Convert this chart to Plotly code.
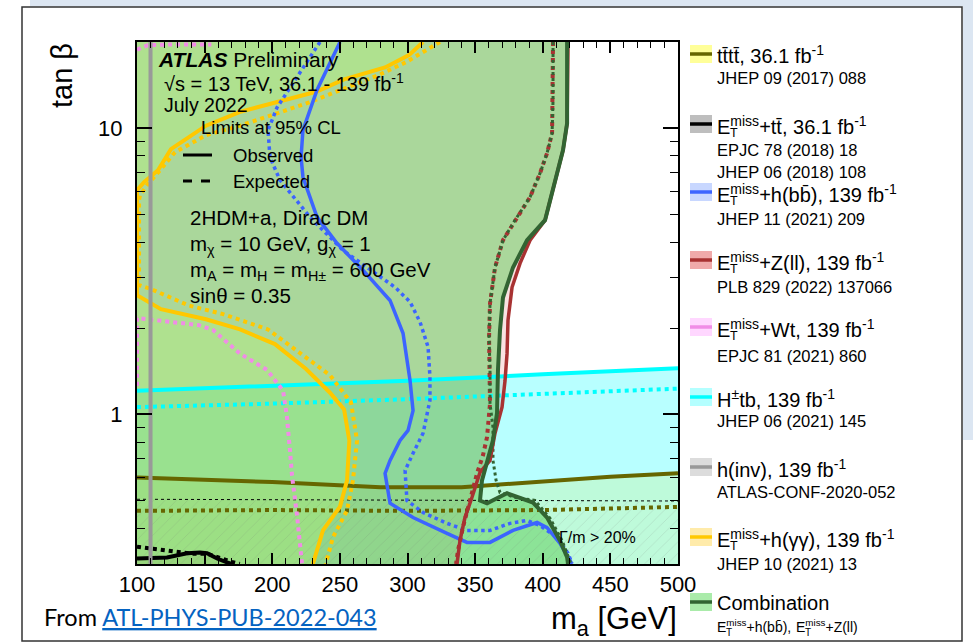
import math
import plotly.graph_objects as go

# ---------------- exclusion contours: m_a [GeV] vs tan(beta) ----------------
# Combination (E_T^miss+h(bb), E_T^miss+Z(ll)), observed / expected
comb_obs_ma = [418.0, 418.0, 415.0, 409.8, 404.5, 401.7, 388.4, 378.0, 370.6, 368.4, 366.9, 366.2,
               363.2, 358.8, 355.1, 353.6, 358.8, 373.6, 392.8, 403.2, 412.8, 418.0, 418.7]
comb_obs_tb = [20.0, 10.4, 8.38, 6.68, 5.25, 4.77, 4.06, 3.26, 2.56, 1.97, 1.43, 1.01,
               0.811, 0.690, 0.588, 0.500, 0.489, 0.530, 0.492, 0.436, 0.362, 0.317, 0.300]
comb_exp_ma = [407.6, 407.6, 406.9, 403.2, 398.0, 390.6, 379.5, 370.6, 364.7, 361.0, 360.3, 361.0,
               361.0, 363.2, 363.2, 365.5, 368.4, 379.5, 394.3, 405.4, 414.3, 420.9]
comb_exp_tb = [20.0, 12.5, 9.6, 8.18, 6.96, 5.74, 4.77, 4.06, 3.26, 2.44, 1.86, 1.43,
               1.09, 0.901, 0.690, 0.588, 0.533, 0.513, 0.500, 0.433, 0.362, 0.300]

# E_T^miss+Z(ll)
zll_obs_ma = [418.7, 418.0, 415.0, 409.8, 403.9, 401.7, 390.6, 383.2, 377.3, 374.3, 373.6, 372.1,
              369.9, 364.7, 361.0, 353.6, 347.7, 342.5, 338.8, 336.6]
zll_obs_tb = [20.0, 10.4, 8.38, 6.68, 5.25, 4.77, 4.06, 3.37, 2.78, 2.13, 1.63, 1.31,
              1.06, 0.859, 0.690, 0.627, 0.513, 0.436, 0.362, 0.300]
zll_exp_ma = [407.6, 407.6, 406.9, 403.2, 398.0, 390.6, 379.5, 370.6, 364.7, 361.0, 360.3, 361.0,
              361.0, 358.8, 355.8, 351.4, 346.2, 341.0, 337.3, 335.9]
zll_exp_tb = [20.0, 12.5, 9.6, 8.18, 6.96, 5.74, 4.77, 4.06, 3.26, 2.44, 1.86, 1.43,
              1.09, 0.832, 0.719, 0.622, 0.500, 0.403, 0.334, 0.300]

# E_T^miss+h(bb)
hbb_obs_ma = [250.1, 236.8, 233.1, 222.7, 221.3, 222.7, 233.1, 247.9, 267.1, 287.1, 296.7, 301.9,
              304.1, 300.4, 294.5, 287.1, 283.4, 287.1, 304.1, 329.2, 344.0, 361.0, 378.0, 395.8,
              403.2, 412.8, 421.6]
hbb_obs_tb = [20.0, 14.7, 13.6, 9.84, 7.92, 6.75, 4.89, 3.96, 3.19, 2.50, 1.92, 1.31,
              1.03, 0.879, 0.811, 0.690, 0.622, 0.489, 0.436, 0.384, 0.357, 0.357, 0.393, 0.419,
              0.402, 0.354, 0.300]
hbb_exp_ma = [235.3, 218.3, 203.5, 196.9, 198.3, 205.7, 227.9, 252.3, 276.0, 290.8, 301.9, 309.3,
              315.2, 316.6, 316.6, 311.5, 304.1, 298.2, 299.6, 311.5, 329.2, 344.0, 361.0, 375.8,
              388.4, 397.9, 410.5, 418.7, 421.6]
hbb_exp_tb = [20.0, 15.1, 11.8, 9.84, 7.92, 6.58, 4.89, 3.74, 3.11, 2.78, 2.47, 2.10,
              1.72, 1.35, 1.12, 0.859, 0.731, 0.637, 0.500, 0.454, 0.416, 0.393, 0.393, 0.416,
              0.426, 0.409, 0.372, 0.327, 0.301]

# E_T^miss+h(gamma gamma): upper and lower branches of the observed / expected contour
hyy_obs_up_ma = [311.5, 301.1, 283.4, 253.1, 232.4, 202.0, 176.2, 151.0, 125.1, 115.5, 105.2, 100.0]
hyy_obs_up_tb = [20.0, 18.0, 16.3, 14.8, 13.4, 12.3, 11.4, 10.2, 8.45, 7.13, 6.47, 6.07]
hyy_obs_lo_ma = [100.0, 117.7, 151.0, 176.2, 202.0, 225.0, 242.7, 253.1, 257.0, 255.3, 250.1, 237.5,
                 230.5, 230.0]
hyy_obs_lo_tb = [2.61, 2.33, 2.15, 1.98, 1.76, 1.44, 1.19, 1.04, 0.810, 0.588, 0.476, 0.393,
                 0.305, 0.300]
hyy_exp_up_ma = [324.0, 311.5, 298.9, 278.2, 253.1, 227.2, 202.0, 176.2, 151.0, 128.1, 117.7, 107.4,
                 102.2, 101.5]
hyy_exp_up_tb = [20.0, 18.5, 17.0, 15.3, 13.7, 12.3, 11.2, 10.2, 9.45, 8.24, 7.19, 6.32,
                 5.83, 5.60]
hyy_exp_lo_ma = [101.5, 110.4, 138.4, 163.6, 196.9, 219.8, 242.7, 258.2, 262.7, 259.7, 255.3, 244.9,
                 240.5, 239.5]
hyy_exp_lo_tb = [2.83, 2.74, 2.40, 2.24, 1.98, 1.65, 1.37, 1.10, 0.810, 0.588, 0.462, 0.372,
                 0.309, 0.300]

# E_T^miss+Wt (expected)
wt_exp_ma = [100.0, 100.0, 145.8, 156.2, 176.2, 196.1, 208.0, 210.9, 213.1, 214.6, 218.3, 222.0]
wt_exp_tb = [1.26, 2.17, 2.05, 1.97, 1.63, 1.43, 1.21, 0.976, 0.748, 0.612, 0.444, 0.300]
wt_exp_top_ma = [100.0, 108.0, 125.0, 155.0]
wt_exp_top_tb = [18.8, 19.5, 19.6, 19.6]

# H+tb
htb_ma = [100, 200, 300, 400, 500]
htb_obs_tb = [1.21, 1.26, 1.31, 1.38, 1.45]
htb_exp_tb = [1.06, 1.09, 1.13, 1.18, 1.23]

# tttt
tttt_obs_ma = [100, 200, 280, 340, 390, 450, 500]
tttt_obs_tb = [0.602, 0.580, 0.556, 0.556, 0.578, 0.605, 0.622]
tttt_exp_ma = [100, 200, 300, 400, 500]
tttt_exp_tb = [0.460, 0.463, 0.460, 0.463, 0.475]

# E_T^miss+tt
ett_obs_ma = [100.0, 122.2, 137.0, 146.6, 151.8, 159.2, 166.5, 170.0]
ett_obs_tb = [0.3135, 0.316, 0.327, 0.329, 0.327, 0.3135, 0.304, 0.300]
ett_exp_ma = [100.0, 122.2, 140.0, 152.0, 160.0, 170.0, 176.0]
ett_exp_tb = [0.345, 0.335, 0.326, 0.326, 0.316, 0.305, 0.300]

# h(inv)
hinv_ma = [110, 110]
hinv_tb = [0.3, 20]

# Gamma/m > 20% boundary
width_ma = [100, 500]
width_tb = [0.505, 0.498]

# axis ticks
ma_ticks = [100, 150, 200, 250, 300, 350, 400, 450, 500]
ma_minor = [v for v in range(110, 500, 10) if v % 50]
tb_ticks = [1, 10]
tb_minor = [0.3, 0.4, 0.5, 0.6, 0.7, 0.8, 0.9, 2, 3, 4, 5, 6, 7, 8, 9, 20]

# ---------------- colours ----------------
C_TTTT = "#666600"
C_BLUE = "#3c64ff"
C_RED = "#a83232"
C_PINK = "#f08ce6"
C_CYAN = "#00ffff"
C_GRAY = "#999999"
C_YEL = "#ffc800"
C_GREEN = "#326432"

FONT = "Liberation Sans, Arial, Helvetica, sans-serif"

fig = go.Figure()


def add_fill(x, y, color):
    fig.add_trace(go.Scatter(x=x, y=y, mode="lines", fill="toself", fillcolor=color,
                             line=dict(width=0), hoverinfo="skip", showlegend=False))


def add_line(x, y, color, width=4, dash="solid"):
    fig.add_trace(go.Scatter(x=x, y=y, mode="lines", line=dict(color=color, width=width, dash=dash),
                             hoverinfo="skip", showlegend=False))


# excluded regions
add_fill([100] + htb_ma + [500], [0.3] + htb_obs_tb + [0.3], "rgba(0,255,255,0.28)")
add_fill([100] + tttt_obs_ma + [500], [0.3] + tttt_obs_tb + [0.3], "rgba(200,240,150,0.35)")
add_fill([100] + ett_obs_ma, [0.3] + ett_obs_tb, "rgba(150,150,150,0.35)")
add_fill([100] + zll_obs_ma + [100], [20] + zll_obs_tb + [0.3], "rgba(230,110,110,0.2)")
add_fill([100] + comb_obs_ma + [100], [20] + comb_obs_tb + [0.3], "rgba(90,203,83,0.5)")
add_fill(hyy_obs_up_ma + [100], hyy_obs_up_tb + [20], "rgba(190,250,110,0.27)")
add_fill(hyy_obs_lo_ma + [100], hyy_obs_lo_tb + [0.3], "rgba(190,250,110,0.27)")

# Gamma/m > 20% hatching
fig.add_trace(go.Scatter(
    x=[100, width_ma[0], width_ma[1], 500], y=[0.3, width_tb[0], width_tb[1], 0.3],
    mode="lines", fill="toself", fillcolor="rgba(0,0,0,0)", line=dict(width=0),
    fillpattern=dict(shape="/", fgcolor="rgba(110,110,110,0.45)", bgcolor="rgba(0,0,0,0)",
                     size=8, solidity=0.08, fillmode="overlay"),
    hoverinfo="skip", showlegend=False))

# contour lines
add_line(width_ma, width_tb, "black", width=1, dash="dot")
add_line(htb_ma, htb_exp_tb, C_CYAN, dash="dot")
add_line(htb_ma, htb_obs_tb, C_CYAN)
add_line(tttt_exp_ma, tttt_exp_tb, C_TTTT, dash="dot")
add_line(tttt_obs_ma, tttt_obs_tb, C_TTTT)
add_line(wt_exp_ma, wt_exp_tb, C_PINK, dash="dot")
add_line(wt_exp_top_ma, wt_exp_top_tb, C_PINK, dash="dot")
add_line(hyy_exp_up_ma + hyy_exp_lo_ma, hyy_exp_up_tb + hyy_exp_lo_tb, C_YEL, dash="dot")
add_line(hyy_obs_up_ma + hyy_obs_lo_ma, hyy_obs_up_tb + hyy_obs_lo_tb, C_YEL)
add_line(hbb_exp_ma, hbb_exp_tb, C_BLUE, width=3.5, dash="dot")
add_line(hbb_obs_ma, hbb_obs_tb, C_BLUE, width=3.5)
add_line(zll_exp_ma, zll_exp_tb, C_RED, width=4, dash="dot")
add_line(comb_exp_ma, comb_exp_tb, C_GREEN, width=3, dash="dot")
add_line(zll_obs_ma, zll_obs_tb, C_RED, width=3.5)
add_line(comb_obs_ma, comb_obs_tb, C_GREEN, width=4)
add_line(ett_exp_ma, ett_exp_tb, "black", dash="dot")
add_line(ett_obs_ma, ett_obs_tb, "black")
add_line(hinv_ma, hinv_tb, C_GRAY)

# ---------------- page layout helpers (pixel -> paper) ----------------
L, R, T, B = 137, 678, 42, 564


def px(x):
    return (x - L) / (R - L)


def py(y):
    return (B - y) / (B - T)


annotations = []
shapes = []


def text(s, x, y, size, xanchor="left", color="black", family=FONT, **kw):
    annotations.append(dict(text=s, x=px(x), y=py(y), xref="paper", yref="paper",
                            xanchor=xanchor, yanchor="middle", showarrow=False, borderpad=0,
                            font=dict(size=size, color=color, family=family), **kw))


# text inside the frame
text("<b><i>ATLAS</i></b> Preliminary", 157, 60, 21)
text("\u221As = 13 TeV, 36.1 - 139 fb<sup>-1</sup>", 163, 82, 20)
text("July 2022", 163, 105, 19.5)
text("Limits at 95% CL", 200, 127, 18.5)
text("Observed", 232, 155, 18.5)
text("Expected", 232, 181, 18.5)
text("2HDM+a, Dirac DM", 189, 218, 20.5)
text("m<sub>\u03c7</sub> = 10 GeV, g<sub>\u03c7</sub> = 1", 189, 245, 20.5)
text("m<sub>A</sub> = m<sub>H</sub> = m<sub>H\u00b1</sub> = 600 GeV", 189, 271, 20.5)
text("sin\u03b8 = 0.35", 189, 295, 20.5)
text("\u0393/m > 20%", 558, 537, 16)
shapes.append(dict(type="line", xref="paper", yref="paper", x0=px(183), x1=px(212),
                   y0=py(155), y1=py(155), line=dict(color="black", width=3)))
shapes.append(dict(type="line", xref="paper", yref="paper", x0=px(183), x1=px(212),
                   y0=py(181), y1=py(181), line=dict(color="black", width=3, dash="dash")))

# axis titles
annotations.append(dict(text="tan \u03b2", x=px(62), y=py(76), xref="paper", yref="paper",
                        textangle=-90, showarrow=False, xanchor="center", yanchor="middle",
                        font=dict(size=29, family=FONT, color="black")))
text("m<sub>a</sub> [GeV]", 678, 621, 31, xanchor="right")

# source line
text("From <span style='color:#0563c1'><u>ATL-PHYS-PUB-2022-043</u></span>", 43, 617, 23.5,
     family="Lato, Open Sans, sans-serif")

# ---------------- legend (drawn by hand, ROOT style) ----------------
legend_rows = [
    # label, reference lines, swatch fill, line colour, label y, ref ys, has E_T^miss
    ("tt\u0304tt\u0304, 36.1 fb<sup>-1</sup>", ["JHEP 09 (2017) 088"], "#ffff99", C_TTTT, 55, [78], False),
    ("E<sup>miss</sup>+tt\u0304, 36.1 fb<sup>-1</sup>", ["EPJC 78 (2018) 18", "JHEP 06 (2018) 108"],
     "#bebebe", "black", 125, [150, 172], True),
    ("E<sup>miss</sup>+h(bb\u0304), 139 fb<sup>-1</sup>", ["JHEP 11 (2021) 209"], "#c8d7ff", C_BLUE, 193, [219], True),
    ("E<sup>miss</sup>+Z(ll), 139 fb<sup>-1</sup>", ["PLB 829 (2022) 137066"], "#f0aaaa", C_RED, 261, [287], True),
    ("E<sup>miss</sup>+Wt, 139 fb<sup>-1</sup>", ["EPJC 81 (2021) 860"], "#ffd7ff", C_PINK, 328, [356], True),
    ("H<sup>\u00b1</sup>tb, 139 fb<sup>-1</sup>", ["JHEP 06 (2021) 145"], "#b4ffff", C_CYAN, 398, [421], False),
    ("h(inv), 139 fb<sup>-1</sup>", ["ATLAS-CONF-2020-052"], "#dcdcdc", C_GRAY, 468, [492], False),
    ("E<sup>miss</sup>+h(\u03b3\u03b3), 139 fb<sup>-1</sup>", ["JHEP 10 (2021) 13"], "#ffebaa", C_YEL, 538, [564], True),
    ("Combination", [], "#aaebaa", C_GREEN, 603, [], False),
]
LX = 716
for label, refs, sw_fill, sw_line, ly, rys, has_et in legend_rows:
    sy = ly - 1
    shapes.append(dict(type="rect", xref="paper", yref="paper", x0=px(690), x1=px(712),
                       y0=py(sy + 9), y1=py(sy - 9), fillcolor=sw_fill, line=dict(width=0)))
    shapes.append(dict(type="line", xref="paper", yref="paper", x0=px(690), x1=px(712),
                       y0=py(sy), y1=py(sy), line=dict(color=sw_line, width=3.5)))
    text(label, LX, ly, 20)
    if has_et:
        text("T", LX + 12.5, ly + 8, 12.5)
    for r_txt, r_y in zip(refs, rys):
        text(r_txt, LX, r_y, 16.5)

# combination sub-label
text("E<sup>miss</sup>+h(bb\u0304),", LX, 626, 14)
text("T", LX + 9, 632, 10)
text("E<sup>miss</sup>+Z(ll)", 795, 626, 14)
text("T", 795 + 9, 632, 10)

# slide frame and background
shapes.append(dict(type="rect", xref="paper", yref="paper", x0=px(30), x1=px(973), y0=py(6.5), y1=py(0),
                   fillcolor="#dce6f2", line=dict(width=0), layer="below"))
shapes.append(dict(type="rect", xref="paper", yref="paper", x0=px(963), x1=px(973), y0=py(440), y1=py(0),
                   fillcolor="#dce6f2", line=dict(width=0), layer="below"))
shapes.append(dict(type="rect", xref="paper", yref="paper", x0=px(22), x1=px(962), y0=py(641), y1=py(7),
                   line=dict(color="#333333", width=1.5)))

fig.update_layout(
    width=973, height=643,
    margin=dict(l=L, r=973 - R, t=T, b=643 - B, pad=0),
    paper_bgcolor="white", plot_bgcolor="white",
    font=dict(family=FONT, color="black"),
    showlegend=False,
    annotations=annotations,
    shapes=shapes,
    xaxis=dict(range=[100, 500], tickmode="array", tickvals=ma_ticks,
               ticktext=[str(v) for v in ma_ticks],
               ticks="inside", ticklen=11, tickwidth=1.5, tickcolor="black",
               showline=True, linecolor="black", linewidth=2, mirror="ticks",
               showgrid=False, zeroline=False, tickfont=dict(size=22),
               minor=dict(tickvals=ma_minor, ticks="inside", ticklen=6, tickwidth=1.2,
                          tickcolor="black", showgrid=False)),
    yaxis=dict(type="log", range=[math.log10(0.3), math.log10(20)], tickmode="array",
               tickvals=tb_ticks, ticktext=["1", "10"],
               ticks="inside", ticklen=15, tickwidth=1.5, tickcolor="black",
               showline=True, linecolor="black", linewidth=2, mirror="ticks",
               showgrid=False, zeroline=False, tickfont=dict(size=22), ticklabelstandoff=8,
               minor=dict(tickvals=tb_minor, ticks="inside", ticklen=8, tickwidth=1.2,
                          tickcolor="black", showgrid=False)),
)

fig.write_html("out.html")
